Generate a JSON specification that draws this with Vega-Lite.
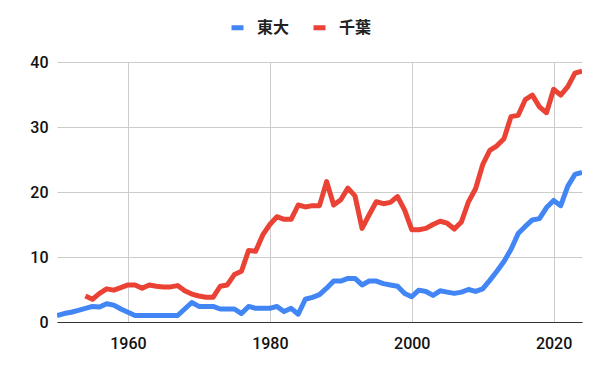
{
  "$schema": "https://vega.github.io/schema/vega-lite/v6.json",
  "width": 525,
  "height": 260,
  "autosize": {"type": "none"},
  "padding": {"left": 57, "top": 62, "right": 18, "bottom": 49},
  "background": "white",
  "data": {
    "values": [
      {"year":1950,"series":"東大","value":1.0},{"year":1951,"series":"東大","value":1.3},{"year":1952,"series":"東大","value":1.5},{"year":1953,"series":"東大","value":1.8},{"year":1954,"series":"東大","value":2.1},
      {"year":1955,"series":"東大","value":2.4},{"year":1956,"series":"東大","value":2.3},{"year":1957,"series":"東大","value":2.8},{"year":1958,"series":"東大","value":2.6},{"year":1959,"series":"東大","value":2.0},
      {"year":1960,"series":"東大","value":1.5},{"year":1961,"series":"東大","value":1.0},{"year":1962,"series":"東大","value":1.0},{"year":1963,"series":"東大","value":1.0},{"year":1964,"series":"東大","value":1.0},
      {"year":1965,"series":"東大","value":1.0},{"year":1966,"series":"東大","value":1.0},{"year":1967,"series":"東大","value":1.0},{"year":1968,"series":"東大","value":2.0},{"year":1969,"series":"東大","value":3.0},
      {"year":1970,"series":"東大","value":2.4},{"year":1971,"series":"東大","value":2.4},{"year":1972,"series":"東大","value":2.4},{"year":1973,"series":"東大","value":2.0},{"year":1974,"series":"東大","value":2.0},
      {"year":1975,"series":"東大","value":2.0},{"year":1976,"series":"東大","value":1.3},{"year":1977,"series":"東大","value":2.4},{"year":1978,"series":"東大","value":2.1},{"year":1979,"series":"東大","value":2.1},
      {"year":1980,"series":"東大","value":2.1},{"year":1981,"series":"東大","value":2.4},{"year":1982,"series":"東大","value":1.6},{"year":1983,"series":"東大","value":2.1},{"year":1984,"series":"東大","value":1.2},
      {"year":1985,"series":"東大","value":3.5},{"year":1986,"series":"東大","value":3.8},{"year":1987,"series":"東大","value":4.2},{"year":1988,"series":"東大","value":5.2},{"year":1989,"series":"東大","value":6.3},
      {"year":1990,"series":"東大","value":6.3},{"year":1991,"series":"東大","value":6.7},{"year":1992,"series":"東大","value":6.7},{"year":1993,"series":"東大","value":5.7},{"year":1994,"series":"東大","value":6.3},
      {"year":1995,"series":"東大","value":6.3},{"year":1996,"series":"東大","value":5.9},{"year":1997,"series":"東大","value":5.7},{"year":1998,"series":"東大","value":5.5},{"year":1999,"series":"東大","value":4.4},
      {"year":2000,"series":"東大","value":3.9},{"year":2001,"series":"東大","value":4.9},{"year":2002,"series":"東大","value":4.7},{"year":2003,"series":"東大","value":4.1},{"year":2004,"series":"東大","value":4.8},
      {"year":2005,"series":"東大","value":4.6},{"year":2006,"series":"東大","value":4.4},{"year":2007,"series":"東大","value":4.6},{"year":2008,"series":"東大","value":5.0},{"year":2009,"series":"東大","value":4.7},
      {"year":2010,"series":"東大","value":5.1},{"year":2011,"series":"東大","value":6.4},{"year":2012,"series":"東大","value":7.8},{"year":2013,"series":"東大","value":9.3},{"year":2014,"series":"東大","value":11.2},
      {"year":2015,"series":"東大","value":13.6},{"year":2016,"series":"東大","value":14.7},{"year":2017,"series":"東大","value":15.7},{"year":2018,"series":"東大","value":15.9},{"year":2019,"series":"東大","value":17.6},
      {"year":2020,"series":"東大","value":18.7},{"year":2021,"series":"東大","value":17.9},{"year":2022,"series":"東大","value":20.9},{"year":2023,"series":"東大","value":22.7},{"year":2024,"series":"東大","value":23.0},
      {"year":1954,"series":"千葉","value":4.0},
      {"year":1955,"series":"千葉","value":3.5},{"year":1956,"series":"千葉","value":4.4},{"year":1957,"series":"千葉","value":5.1},{"year":1958,"series":"千葉","value":4.9},{"year":1959,"series":"千葉","value":5.3},
      {"year":1960,"series":"千葉","value":5.7},{"year":1961,"series":"千葉","value":5.7},{"year":1962,"series":"千葉","value":5.2},{"year":1963,"series":"千葉","value":5.7},{"year":1964,"series":"千葉","value":5.5},
      {"year":1965,"series":"千葉","value":5.4},{"year":1966,"series":"千葉","value":5.4},{"year":1967,"series":"千葉","value":5.6},{"year":1968,"series":"千葉","value":4.8},{"year":1969,"series":"千葉","value":4.3},
      {"year":1970,"series":"千葉","value":4.0},{"year":1971,"series":"千葉","value":3.8},{"year":1972,"series":"千葉","value":3.8},{"year":1973,"series":"千葉","value":5.5},{"year":1974,"series":"千葉","value":5.7},
      {"year":1975,"series":"千葉","value":7.3},{"year":1976,"series":"千葉","value":7.8},{"year":1977,"series":"千葉","value":11.0},{"year":1978,"series":"千葉","value":10.9},{"year":1979,"series":"千葉","value":13.4},
      {"year":1980,"series":"千葉","value":15.0},{"year":1981,"series":"千葉","value":16.2},{"year":1982,"series":"千葉","value":15.8},{"year":1983,"series":"千葉","value":15.8},{"year":1984,"series":"千葉","value":18.0},
      {"year":1985,"series":"千葉","value":17.7},{"year":1986,"series":"千葉","value":17.9},{"year":1987,"series":"千葉","value":17.9},{"year":1988,"series":"千葉","value":21.6},{"year":1989,"series":"千葉","value":18.0},
      {"year":1990,"series":"千葉","value":18.8},{"year":1991,"series":"千葉","value":20.6},{"year":1992,"series":"千葉","value":19.4},{"year":1993,"series":"千葉","value":14.4},{"year":1994,"series":"千葉","value":16.5},
      {"year":1995,"series":"千葉","value":18.5},{"year":1996,"series":"千葉","value":18.2},{"year":1997,"series":"千葉","value":18.4},{"year":1998,"series":"千葉","value":19.3},{"year":1999,"series":"千葉","value":17.2},
      {"year":2000,"series":"千葉","value":14.2},{"year":2001,"series":"千葉","value":14.2},{"year":2002,"series":"千葉","value":14.4},{"year":2003,"series":"千葉","value":15.0},{"year":2004,"series":"千葉","value":15.5},
      {"year":2005,"series":"千葉","value":15.2},{"year":2006,"series":"千葉","value":14.3},{"year":2007,"series":"千葉","value":15.4},{"year":2008,"series":"千葉","value":18.5},{"year":2009,"series":"千葉","value":20.5},
      {"year":2010,"series":"千葉","value":24.2},{"year":2011,"series":"千葉","value":26.4},{"year":2012,"series":"千葉","value":27.1},{"year":2013,"series":"千葉","value":28.2},{"year":2014,"series":"千葉","value":31.6},
      {"year":2015,"series":"千葉","value":31.8},{"year":2016,"series":"千葉","value":34.2},{"year":2017,"series":"千葉","value":34.9},{"year":2018,"series":"千葉","value":33.1},{"year":2019,"series":"千葉","value":32.2},
      {"year":2020,"series":"千葉","value":35.8},{"year":2021,"series":"千葉","value":34.9},{"year":2022,"series":"千葉","value":36.2},{"year":2023,"series":"千葉","value":38.3},{"year":2024,"series":"千葉","value":38.6}
    ]
  },
  "mark": {"type": "line", "strokeWidth": 5, "strokeJoin": "round", "clip": true},
  "encoding": {
    "x": {
      "field": "year", "type": "quantitative",
      "scale": {"domain": [1950, 2024], "nice": false, "zero": false},
      "axis": {
        "title": null, "values": [1960, 1980, 2000, 2020], "format": "d",
        "grid": true, "gridColor": "#cccccc", "ticks": false, "domain": true, "domainColor": "#333333",
        "labelFont": "Roboto", "labelFontSize": 16, "labelFontWeight": 500, "labelColor": "#111111", "labelPadding": 13
      }
    },
    "y": {
      "field": "value", "type": "quantitative",
      "scale": {"domain": [0, 40], "nice": false},
      "axis": {
        "title": null, "values": [0, 10, 20, 30, 40],
        "grid": true, "gridColor": "#cccccc", "ticks": false, "domain": false,
        "labelFont": "Roboto", "labelFontSize": 16, "labelFontWeight": 500, "labelColor": "#111111", "labelPadding": 9
      }
    },
    "color": {
      "field": "series", "type": "nominal",
      "scale": {"domain": ["東大", "千葉"], "range": ["#4285F4", "#EA4335"]},
      "legend": {
        "title": null, "orient": "none", "direction": "horizontal",
        "legendX": 172, "legendY": -43,
        "symbolType": "stroke", "symbolStrokeWidth": 5, "symbolSize": 144,
        "labelFont": "Noto Sans CJK JP", "labelFontSize": 16, "labelFontWeight": "bold",
        "labelColor": "#222222", "labelOffset": 11, "columnPadding": 13
      }
    }
  },
  "config": {"view": {"stroke": null}}
}
